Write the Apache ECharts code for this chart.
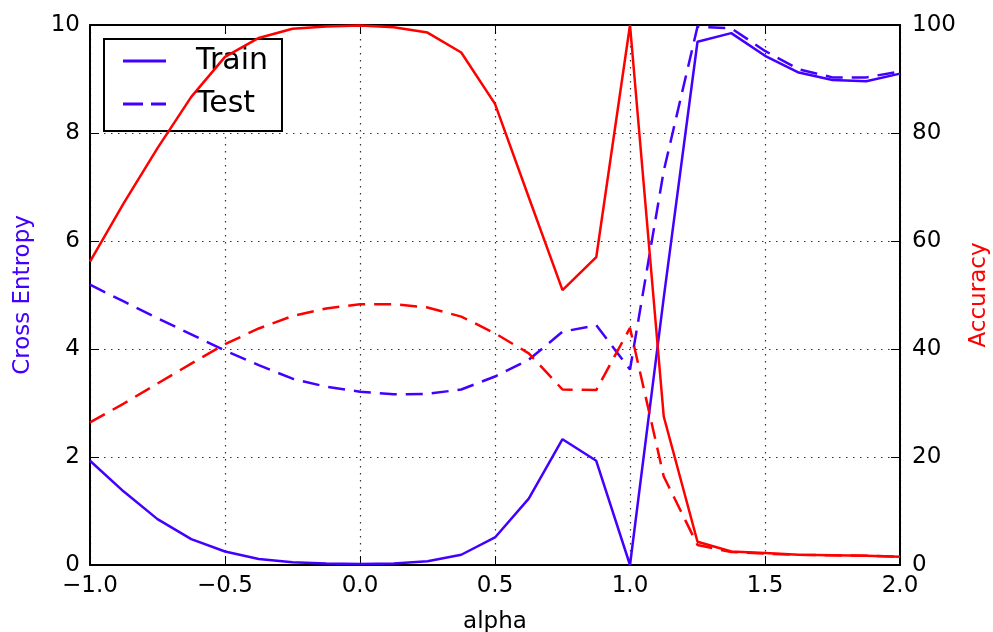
<!DOCTYPE html>
<html>
<head>
<meta charset="utf-8">
<script src="https://cdn.jsdelivr.net/npm/echarts@6/dist/echarts.min.js"></script>
<style>html,body{margin:0;padding:0;background:#fff;}#c{width:993px;height:632px;}</style>
</head>
<body>
<div id="c"></div>
<script>
var alpha = [-1, -0.875, -0.75, -0.625, -0.5, -0.375, -0.25, -0.125, 0, 0.125, 0.25, 0.375, 0.5, 0.625, 0.75, 0.875, 1, 1.125, 1.25, 1.375, 1.5, 1.625, 1.75, 1.875, 2];
var trainLoss = [1.93, 1.36, 0.85, 0.48, 0.25, 0.11, 0.05, 0.03, 0.02, 0.03, 0.07, 0.19, 0.51, 1.23, 2.33, 1.93, 0.0, 4.95, 9.69, 9.85, 9.43, 9.12, 8.98, 8.96, 9.1];
var testLoss = [5.19, 4.88, 4.57, 4.27, 3.97, 3.70, 3.45, 3.30, 3.21, 3.16, 3.17, 3.25, 3.49, 3.80, 4.32, 4.44, 3.62, 7.3, 9.97, 9.94, 9.52, 9.18, 9.03, 9.03, 9.14];
var trainAcc = [56.2, 67.0, 77.2, 86.7, 94.1, 97.6, 99.3, 99.7, 99.9, 99.6, 98.6, 94.9, 85.4, 68.1, 50.9, 57.0, 100, 27.5, 4.3, 2.5, 2.2, 1.9, 1.8, 1.7, 1.55];
var testAcc = [26.4, 29.9, 33.6, 37.3, 40.9, 43.8, 46.1, 47.5, 48.3, 48.3, 47.7, 46.0, 42.9, 39.2, 32.5, 32.4, 43.9, 16.4, 3.7, 2.4, 2.1, 1.9, 1.8, 1.7, 1.55];
var xTicks = {min: -1, max: 2, step: 0.5};
var lossTicks = {min: 0, max: 10, step: 2};
var accTicks = {min: 0, max: 100, step: 20};

var BLUE = '#4400ff', RED = '#ff0000', FONT = 'DejaVu Sans';
function pairs(arr) { return alpha.map(function (a, i) { return [a, arr[i]]; }); }
function fmtX(v) { return (v < 0 ? '\u2212' : '') + Math.abs(v).toFixed(1); }
var grid = {type: [1.5, 5.5], color: '#333', width: 1.2};
var DASH = [17, 9];

var chart = echarts.init(document.getElementById('c'), null, {renderer: 'canvas'});
chart.setOption({
  animation: false,
  backgroundColor: '#fff',
  grid: {left: 90, right: 93, top: 25, bottom: 67, containLabel: false, outerBoundsMode: 'none'},
  legend: {
    data: [
      {name: 'Train', icon: 'path://M0,0h43v3h-43z', itemStyle: {color: BLUE, opacity: 1, borderWidth: 0}},
      {name: 'Test', icon: 'path://M0,0h20v3h-20z M28,0h15v3h-15z', itemStyle: {color: BLUE, opacity: 1, borderWidth: 0}}
    ],
    orient: 'vertical',
    left: 104, top: 39,
    z: 4,
    backgroundColor: '#fff',
    borderColor: '#000', borderWidth: 2, borderRadius: 0,
    padding: [6, 14, 11, 19],
    itemWidth: 43, itemHeight: 3, itemGap: 11,
    itemStyle: {color: BLUE, borderWidth: 0, opacity: 1},
    lineStyle: {width: 0, opacity: 0},
    textStyle: {fontFamily: FONT, fontSize: 30, color: '#000', lineHeight: 32, padding: [0, 0, 0, 25]}
  },
  xAxis: [{
    type: 'value', min: xTicks.min, max: xTicks.max, interval: xTicks.step,
    name: 'alpha', nameLocation: 'middle', nameGap: 46,
    nameTextStyle: {fontFamily: FONT, fontSize: 23, color: '#000'},
    axisLine: {show: true, onZero: false, lineStyle: {color: '#000', width: 2}},
    axisTick: {show: true, inside: true, length: 9, lineStyle: {color: '#000', width: 1}},
    axisLabel: {fontFamily: FONT, fontSize: 23, color: '#000', margin: 10, formatter: fmtX},
    splitLine: {show: true, lineStyle: grid}
  }, {
    type: 'value', position: 'top', min: xTicks.min, max: xTicks.max, interval: xTicks.step,
    axisLine: {show: true, onZero: false, lineStyle: {color: '#000', width: 2}},
    axisTick: {show: true, inside: true, length: 9, lineStyle: {color: '#000', width: 1}},
    axisLabel: {show: false}, splitLine: {show: false}
  }],
  yAxis: [{
    type: 'value', position: 'left', min: lossTicks.min, max: lossTicks.max, interval: lossTicks.step,
    name: 'Cross Entropy', nameLocation: 'middle', nameGap: 55, nameRotate: 90,
    nameTextStyle: {fontFamily: FONT, fontSize: 23, color: BLUE},
    axisLine: {show: true, onZero: false, lineStyle: {color: '#000', width: 2}},
    axisTick: {show: true, inside: true, length: 9, lineStyle: {color: '#000', width: 1}},
    axisLabel: {fontFamily: FONT, fontSize: 23, color: '#000', margin: 10},
    splitLine: {show: true, lineStyle: grid}
  }, {
    type: 'value', position: 'right', min: accTicks.min, max: accTicks.max, interval: accTicks.step,
    name: 'Accuracy', nameLocation: 'middle', nameGap: 68, nameRotate: 90,
    nameTextStyle: {fontFamily: FONT, fontSize: 23, color: RED},
    axisLine: {show: true, onZero: false, lineStyle: {color: '#000', width: 2}},
    axisTick: {show: true, inside: true, length: 9, lineStyle: {color: '#000', width: 1}},
    axisLabel: {fontFamily: FONT, fontSize: 23, color: '#000', margin: 12},
    splitLine: {show: false}
  }],
  series: [
    {name: 'Train', type: 'line', xAxisIndex: 0, yAxisIndex: 0, data: pairs(trainLoss), showSymbol: false, symbol: 'none', z: 2,
     lineStyle: {color: BLUE, width: 2.5}, itemStyle: {color: BLUE}},
    {name: 'Test', type: 'line', xAxisIndex: 0, yAxisIndex: 0, data: pairs(testLoss), showSymbol: false, symbol: 'none', z: 2,
     lineStyle: {color: BLUE, width: 2.5, type: DASH}, itemStyle: {color: BLUE}},
    {name: 'Train Accuracy', type: 'line', xAxisIndex: 0, yAxisIndex: 1, data: pairs(trainAcc), showSymbol: false, symbol: 'none', z: 6,
     lineStyle: {color: RED, width: 2.5}, itemStyle: {color: RED}},
    {name: 'Test Accuracy', type: 'line', xAxisIndex: 0, yAxisIndex: 1, data: pairs(testAcc), showSymbol: false, symbol: 'none', z: 6,
     lineStyle: {color: RED, width: 2.5, type: DASH}, itemStyle: {color: RED}}
  ]
});
</script>
</body>
</html>
